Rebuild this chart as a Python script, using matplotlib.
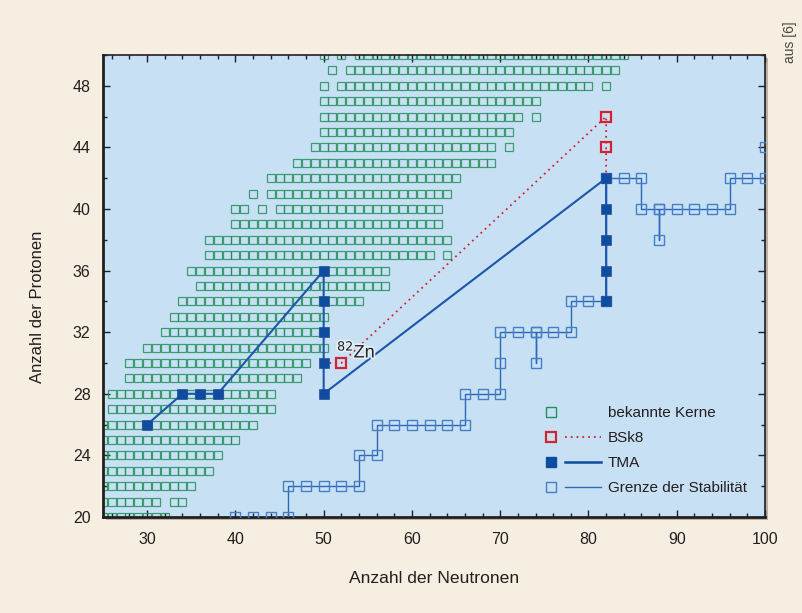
import matplotlib
matplotlib.use('Agg')
import matplotlib.pyplot as plt
from matplotlib.lines import Line2D
from matplotlib.legend_handler import HandlerTuple
from matplotlib.patches import Rectangle
from matplotlib.ticker import MultipleLocator
import matplotlib.patheffects as pe

# ---------------- data ----------------
# known nuclei: runs of consecutive neutron numbers per proton number
known_run_z = [20, 21, 21, 22, 23, 24, 25, 26, 27, 28, 29, 30, 31, 32, 33, 34, 35, 36,
               37, 37, 38, 39, 40, 40, 40, 41, 41, 42, 43, 44, 44, 45, 46, 46, 47,
               48, 48, 48, 49, 49, 50, 50, 50]
known_run_start = [25, 25, 33, 25, 25, 25, 25, 25, 26, 26, 28, 28, 30, 32, 33, 34, 36, 35,
                   37, 64, 37, 40, 40, 43, 45, 42, 44, 44, 47, 49, 71, 50, 50, 74, 50,
                   50, 52, 82, 51, 53, 50, 52, 54]
known_run_end = [32, 31, 34, 35, 37, 38, 40, 42, 44, 44, 47, 48, 50, 50, 50, 54, 57, 57,
                 62, 64, 64, 63, 41, 43, 63, 42, 64, 65, 69, 69, 71, 71, 72, 74, 74,
                 50, 80, 82, 51, 83, 50, 52, 84]

# BSk8 prediction
bsk8_n = [52, 82, 82]
bsk8_z = [30, 44, 46]
bsk8_line_n = [50, 52, 82, 82]
bsk8_line_z = [30, 30, 46, 42]

# TMA prediction
tma_n = [30, 34, 36, 38, 50, 50, 50, 50, 50, 82, 82, 82, 82, 82]
tma_z = [26, 28, 28, 28, 36, 34, 32, 30, 28, 42, 40, 38, 36, 34]

# limit of stability
stab_n = [40, 42, 44, 46, 46, 48, 50, 52, 54, 54, 56, 56, 58, 60, 62, 64, 66, 66, 68, 70,
          70, 70, 72, 74, 74, 74, 76, 78, 78, 80, 82, 82, 84, 86, 86, 88, 88, 88, 90, 92,
          94, 96, 96, 98, 100, 100]
stab_z = [20, 20, 20, 20, 22, 22, 22, 22, 22, 24, 24, 26, 26, 26, 26, 26, 26, 28, 28, 28,
          30, 32, 32, 32, 30, 32, 32, 32, 34, 34, 34, 42, 42, 42, 40, 40, 38, 40, 40, 40,
          40, 40, 42, 42, 42, 44]

legend_labels = ['bekannte Kerne', 'BSk8', 'TMA', 'Grenze der Stabilität']
x_label = 'Anzahl der Neutronen'
y_label = 'Anzahl der Protonen'
source_note = 'aus [6]'

# ---------------- style ----------------
FONT = ['Liberation Sans', 'DejaVu Sans']
plt.rcParams['font.family'] = FONT
BG = '#F6EEE0'
PLOT_BG = '#C8E0F4'
GREEN = '#23915a'
RED = '#D42232'
TMA = '#0D4C9E'
STAB = '#4680C4'
STABLINE = '#2D68B8'
TXT = '#231F20'

W, H = 802, 613
fig = plt.figure(figsize=(W / 100, H / 100), dpi=100, facecolor=BG)
l, r, b, t = 103, 765, 517, 55
ax = fig.add_axes([l / W, 1 - b / H, (r - l) / W, (b - t) / H])
ax.set_facecolor(PLOT_BG)
ax.set_xlim(25, 100)
ax.set_ylim(20, 50)

# subtle shadow of the frame
fig.patches.append(Rectangle(((l + 3) / W, 1 - (b + 3) / H), (r - l) / W, (b - t) / H,
                             transform=fig.transFigure, facecolor='#B9B2A6',
                             edgecolor='none', zorder=-1))

# known nuclei
kn, kz = [], []
for z, s, e in zip(known_run_z, known_run_start, known_run_end):
    for n in range(s, e + 1):
        kn.append(n)
        kz.append(z)
ax.plot(kn, kz, ls='none', marker='s', ms=6.4, mfc='none', mec=GREEN, mew=0.9,
        alpha=0.85, zorder=2)

# stability limit
ax.plot(stab_n, stab_z, color=STABLINE, lw=1.0, zorder=3)
ax.plot(stab_n, stab_z, ls='none', marker='s', ms=6.6, mfc='none', mec=STAB, mew=1.0,
        zorder=3)

# BSk8
ax.plot(bsk8_line_n, bsk8_line_z, color=RED, lw=1.3, ls=(0, (1, 2.2)), zorder=4)
ax.plot(bsk8_n, bsk8_z, ls='none', marker='s', ms=6.6, mfc='none', mec=RED, mew=1.6,
        zorder=5)

# TMA
ax.plot(tma_n, tma_z, color='#1B56AA', lw=1.5, zorder=5)
ax.plot(tma_n, tma_z, ls='none', marker='s', ms=7.2, color=TMA, mec='#2A4C9A',
        mew=0.5, zorder=6)

# 82Zn annotation
ax.text(51.5, 30.35, r'$^{82}$Zn', fontsize=13, color=TXT, ha='left', va='baseline',
        zorder=7, path_effects=[pe.withStroke(linewidth=2.5, foreground='#E4EEF6')])

# ticks
ax.xaxis.set_major_locator(MultipleLocator(10))
ax.xaxis.set_minor_locator(MultipleLocator(2))
ax.yaxis.set_major_locator(MultipleLocator(4))
ax.yaxis.set_minor_locator(MultipleLocator(2))
ax.tick_params(which='both', direction='in', top=True, right=True, color=TXT,
               width=1.0, labelsize=11.5, labelcolor=TXT)
ax.tick_params(which='major', length=5)
ax.tick_params(which='minor', length=3)
ax.tick_params(axis='x', pad=11)
ax.tick_params(axis='y', pad=9)
for sp in ax.spines.values():
    sp.set_color(TXT)
    sp.set_linewidth(1.2)
ax.spines['left'].set_linewidth(2.0)
ax.spines['bottom'].set_linewidth(2.0)

ax.set_xlabel(x_label, fontsize=12.6, color=TXT, labelpad=17)
ax.set_ylabel(y_label, fontsize=12.0, color=TXT)
ax.yaxis.set_label_coords(-0.087, 0.455)

fig.text(790 / W, 1 - 42 / H, source_note, rotation=90, fontsize=10, color='#4A4540',
         ha='center', va='center')

# legend: marker and line side by side
FS = 11
blank = Line2D([], [], ls='none')
h_known = (Line2D([], [], ls='none', marker='s', ms=6.5, mfc='none', mec=GREEN, mew=1.0),
           blank)
h_bsk = (Line2D([], [], ls='none', marker='s', ms=6.8, mfc='none', mec=RED, mew=1.6),
         Line2D([], [], color=RED, lw=1.3, ls=(0, (1, 2.2))))
h_tma = (Line2D([], [], ls='none', marker='s', ms=7.4, color=TMA),
         Line2D([], [], color=TMA, lw=1.8))
h_stab = (Line2D([], [], ls='none', marker='s', ms=6.5, mfc='none', mec=STAB, mew=1.0),
          Line2D([], [], color=STABLINE, lw=1.0))
leg = ax.legend([h_known, h_bsk, h_tma, h_stab], legend_labels,
                handler_map={tuple: HandlerTuple(ndivide=None, pad=-0.23)},
                numpoints=1, frameon=False, loc='upper left',
                bbox_to_anchor=(0.65, 0.24), borderaxespad=0, borderpad=0,
                handlelength=4.4, handletextpad=0.46, labelspacing=0.72,
                prop={'family': FONT, 'size': FS})
for txt in leg.get_texts():
    txt.set_color(TXT)

fig.savefig('out.png', dpi=100, facecolor=BG)
